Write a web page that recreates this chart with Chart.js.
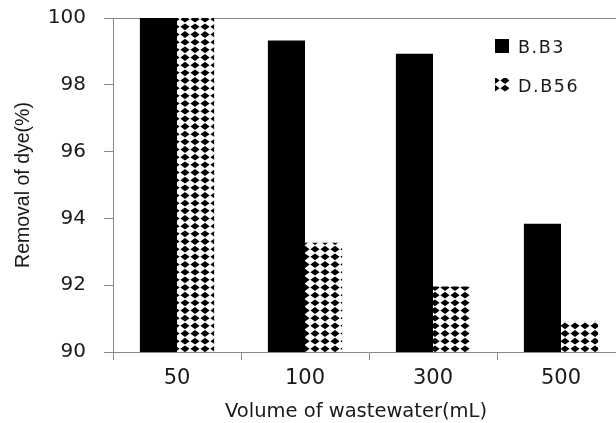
<!DOCTYPE html>
<html>
<head>
<meta charset="utf-8">
<script src="https://cdn.jsdelivr.net/npm/chart.js@4"></script>
<style>
  html, body { margin: 0; padding: 0; background: #fff; overflow: hidden; }
  #wrap { width: 640px; height: 423px; }
</style>
</head>
<body>
<div id="wrap"><canvas id="myChart" width="640" height="423"></canvas></div>
<script>
const categories = ['50', '100', '300', '500'];
const bb3 = [100, 99.33, 98.93, 93.84];
const db56 = [100, 93.27, 91.96, 90.92];
const yTicks = [90, 92, 94, 96, 98, 100];
const xTitle = 'Volume of wastewater(mL)';

// diamond checker pattern for D.B56 (3 rows in 23px => ~7.7px pitch)
function makePattern(ctx) {
  const c = document.createElement('canvas');
  c.width = 10; c.height = 23;
  const p = c.getContext('2d');
  p.fillStyle = '#fff';
  p.fillRect(0, 0, 10, 23);
  p.fillStyle = '#000';
  const h = 23 / 3;
  for (let i = 0; i < 3; i++) {
    const y0 = i * h;
    p.beginPath();
    p.moveTo(5, y0 + 0.4); p.lineTo(9.6, y0 + h / 2); p.lineTo(5, y0 + h - 0.4); p.lineTo(0.4, y0 + h / 2);
    p.closePath();
    p.fill();
  }
  return ctx.createPattern(c, 'repeat');
}

var ctx = document.getElementById('myChart').getContext('2d');
const pattern = makePattern(ctx);

// legend inside the plot (top right) + x axis title, which sits left of the plot centre
const extrasPlugin = {
  id: 'extras',
  afterDraw(chart) {
    const c = chart.ctx;
    c.save();
    c.fillStyle = '#000';
    c.fillRect(495, 39, 14, 14);
    c.fillStyle = pattern;
    c.fillRect(495, 78, 14, 14);
    c.fillStyle = '#1a1a1a';
    c.textBaseline = 'alphabetic';
    c.font = '19.5px "DejaVu Sans", sans-serif';
    c.textAlign = 'center';
    c.fillText(xTitle, 356, 417);
    c.textAlign = 'left';
    c.font = '17.5px "DejaVu Sans", sans-serif';
    c.letterSpacing = '1.6px';
    c.fillText('B.B3', 518, 53);
    c.fillText('D.B56', 518, 92);
    c.restore();
  }
};

var myChart = new Chart(ctx, {
  type: 'bar',
  data: {
    labels: categories,
    datasets: [
      { label: 'B.B3', data: bb3, backgroundColor: '#000', borderWidth: 0 },
      { label: 'D.B56', data: db56, backgroundColor: pattern, borderWidth: 0 }
    ]
  },
  options: {
    responsive: false,
    animation: false,
    layout: { padding: { top: 18, right: 15, left: 0, bottom: 0 } },
    categoryPercentage: 0.58,
    barPercentage: 1.0,
    plugins: { legend: { display: false }, tooltip: { enabled: false } },
    scales: {
      x: {
        grid: { display: true, drawOnChartArea: false, offset: true, tickLength: 8, color: '#888' },
        border: { color: '#888' },
        ticks: { color: '#1a1a1a', font: { family: 'DejaVu Sans', size: 21 }, padding: 6 },
        afterFit(scale) {
          scale.height = 71;
          scale.paddingLeft = 0; scale.paddingRight = 0;
        }
      },
      y: {
        min: 90, max: 100,
        afterBuildTicks(scale) { scale.ticks = yTicks.map(v => ({ value: v })); },
        grid: {
          drawOnChartArea: true, tickLength: 9,
          color: c => (c.tick && c.tick.value === 100) ? '#888' : 'rgba(0,0,0,0)',
          tickColor: '#888'
        },
        border: { color: '#888' },
        ticks: { color: '#1a1a1a', font: { family: 'DejaVu Sans', size: 20 }, padding: 18 },
        title: { display: true, text: 'Removal of dye(%)', color: '#1a1a1a',
                 font: { family: 'Liberation Sans', size: 19.5 }, padding: { top: 12, bottom: 0 } },
        afterFit(scale) {
          scale.width = 113;
          scale.paddingTop = 0; scale.paddingBottom = 0;
        }
      }
    }
  },
  plugins: [extrasPlugin]
});
</script>
</body>
</html>
